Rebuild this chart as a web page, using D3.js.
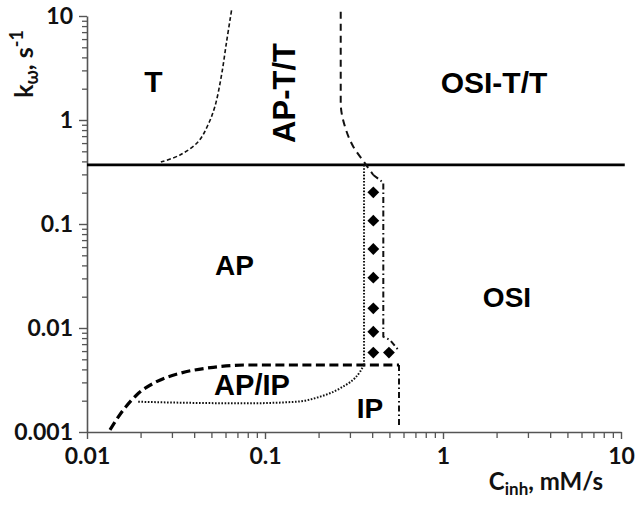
<!DOCTYPE html>
<html><head><meta charset="utf-8">
<script src="https://cdn.jsdelivr.net/npm/d3@7"></script>
<style>
body{margin:0;background:#fff;}
svg{display:block;}
.reg{font-family:"Liberation Sans",Arial,sans-serif;font-weight:bold;fill:#000;}
.tick text{font-family:Lato,"Liberation Sans",sans-serif;font-weight:bold;fill:#111;}
.axlab{font-family:Lato,"Liberation Sans",sans-serif;font-weight:bold;fill:#111;}
</style></head>
<body>
<svg id="c" width="636" height="506"></svg>
<script>
// ---- data (x: C_inh mM/s, y: k_w s^-1) ----
const xMajor = [0.01, 0.1, 1, 10];
const yMajor = [0.001, 0.01, 0.1, 1, 10];
const xTickLabels = ["0.01", "0.1", "1", "10"];
const yTickLabels = ["0.001", "0.01", "0.1", "1", "10"];

const thresholdK = 0.37;              // solid horizontal line
const thresholdSpan = [0.01, 10.5];

const tBoundary = [[0.0260,0.394],[0.0333,0.461],[0.0420,0.614],[0.0478,0.895],[0.0524,1.363],[0.0570,2.71],[0.0608,5.62],[0.0649,11.4]];
const osiTBoundary = [[0.2663,11.0],[0.2663,1.457],[0.2815,0.862],[0.3134,0.554],[0.3646,0.383],[0.406,0.296]];
const osiUpperDashDot = [[0.406,0.296],[0.462,0.25],[0.462,0.00825],[0.504,0.00767],[0.561,0.00614]];
const osiLowerDashDot = [[0.566,0.00441],[0.566,0.00112]];
const apIpUpper = [[0.01346,0.00105],[0.0160,0.00163],[0.0190,0.00227],[0.0246,0.00305],[0.0333,0.00367],[0.0512,0.00419],[0.0789,0.00441],[0.2,0.00441],[0.566,0.00441]];
const apIpLower = [[0.0194,0.001955],[0.0333,0.001914],[0.0789,0.001888],[0.1507,0.001955],[0.2037,0.002185],[0.2638,0.00263],[0.3418,0.0038],[0.360,0.00441]];
const apBoundaryVertical = [[0.360,0.00441],[0.360,0.37]];
const diamondsX = [0.406,0.406,0.406,0.406,0.406,0.406,0.406,0.497];
const diamondsY = [0.2017,0.1076,0.0575,0.03046,0.01547,0.00921,0.00580,0.00580];

const regionNames = ["T","AP-T/T","OSI-T/T","AP","AP/IP","IP","OSI"];
const regionX = [0.0236,0.1474,1.934,0.0674,0.0845,0.389,2.288];
const regionY = [1.871,1.82,1.82,0.0323,0.00227,0.001364,0.01603];

// ---- layout ----
const svg = d3.select("#c");
const x = d3.scaleLog().domain([0.01,10]).range([87,621]);
const y = d3.scaleLog().domain([0.001,10]).range([432,16]);

function minors(majors){
  const out=[];
  for(let i=0;i<majors.length-1;i++) for(let k=2;k<=9;k++) out.push(majors[i]*k);
  return out;
}

const axCol = "#555";
// minor ticks
svg.append("g").attr("transform","translate(0,432)")
  .call(d3.axisBottom(x).tickValues(minors(xMajor)).tickSize(6).tickFormat(""))
  .call(g=>{g.select(".domain").remove();g.selectAll("line").attr("stroke",axCol).attr("stroke-width",1.3);});
svg.append("g").attr("transform","translate(87,0)")
  .call(d3.axisLeft(y).tickValues(minors(yMajor)).tickSize(5).tickFormat(""))
  .call(g=>{g.select(".domain").remove();g.selectAll("line").attr("stroke",axCol).attr("stroke-width",1.3);});
// major
svg.append("g").attr("transform","translate(0,432)")
  .call(d3.axisBottom(x).tickValues(xMajor).tickSize(7).tickSizeOuter(0).tickPadding(9).tickFormat((d,i)=>xTickLabels[i]))
  .call(g=>{g.select(".domain").attr("stroke",axCol).attr("stroke-width",1.6);
            g.selectAll("line").attr("stroke",axCol).attr("stroke-width",1.4);
            g.selectAll("text").attr("font-size",23);});
svg.append("g").attr("transform","translate(87,0)")
  .call(d3.axisLeft(y).tickValues(yMajor).tickSize(8).tickSizeOuter(0).tickPadding(6).tickFormat((d,i)=>yTickLabels[i]))
  .call(g=>{g.select(".domain").attr("stroke",axCol).attr("stroke-width",1.6);
            g.selectAll("line").attr("stroke",axCol).attr("stroke-width",1.4);
            g.selectAll("text").attr("font-size",23);});

const L = d3.line().x(d=>x(d[0])).y(d=>y(d[1]));

// solid threshold
svg.append("path").attr("d",L([[thresholdSpan[0],thresholdK],[thresholdSpan[1],thresholdK]]))
  .attr("stroke","#000").attr("stroke-width",2.6).attr("fill","none");

// T boundary thin dashed
svg.append("path").attr("d",d3.line().x(d=>x(d[0])).y(d=>y(d[1])).curve(d3.curveCatmullRom)(tBoundary))
  .attr("stroke","#111").attr("stroke-width",1.6).attr("stroke-dasharray","4,2.5").attr("fill","none");
// OSI-T/T boundary
svg.append("path").attr("d",d3.line().x(d=>x(d[0])).y(d=>y(d[1])).curve(d3.curveMonotoneY)(osiTBoundary))
  .attr("stroke","#111").attr("stroke-width",2).attr("stroke-dasharray","7,5").attr("fill","none");
// dash-dot lines
const dd = "6,3,1.5,3";
svg.append("path").attr("d",L(osiUpperDashDot))
  .attr("stroke","#111").attr("stroke-width",2).attr("stroke-dasharray",dd).attr("fill","none");
svg.append("path").attr("d",L(osiLowerDashDot))
  .attr("stroke","#111").attr("stroke-width",2).attr("stroke-dasharray",dd).attr("fill","none");
// AP/IP upper bold dashed
svg.append("path").attr("d",d3.line().x(d=>x(d[0])).y(d=>y(d[1])).curve(d3.curveMonotoneX)(apIpUpper))
  .attr("stroke","#000").attr("stroke-width",3.2).attr("stroke-dasharray","9,4.5").attr("fill","none");
// dotted
svg.append("path").attr("d",d3.line().x(d=>x(d[0])).y(d=>y(d[1])).curve(d3.curveMonotoneX)(apIpLower))
  .attr("stroke","#111").attr("stroke-width",2).attr("stroke-dasharray","1.6,1.6").attr("fill","none");
svg.append("path").attr("d",L(apBoundaryVertical))
  .attr("stroke","#111").attr("stroke-width",2).attr("stroke-dasharray","1.6,1.6").attr("fill","none");

// diamonds
svg.append("g").selectAll("path").data(diamondsX).join("path")
  .attr("d",d3.symbol(d3.symbolSquare,70)())
  .attr("transform",(d,i)=>`translate(${x(d)},${y(diamondsY[i])}) rotate(45)`)
  .attr("fill","#000");

// region labels
const sizes = [30,31,30,28,29,28,28];
regionNames.forEach((n,i)=>{
  const t = svg.append("text").attr("class","reg").attr("font-size",sizes[i]).attr("text-anchor","middle").text(n);
  if(n==="AP-T/T") t.attr("transform",`translate(${x(regionX[i])},${y(regionY[i])}) rotate(-90)`);
  else t.attr("x",x(regionX[i])).attr("y",y(regionY[i]));
});

// axis labels
const yl = svg.append("text").attr("class","axlab").attr("font-size",25)
  .attr("text-anchor","middle").attr("transform","translate(33,64) rotate(-90)");
yl.append("tspan").text("k");
yl.append("tspan").attr("font-size",18).attr("dy",5).text("ω");
yl.append("tspan").attr("dy",-5).text(", s");
yl.append("tspan").attr("font-size",18).attr("dy",-10).text("-1");

const xl = svg.append("text").attr("class","axlab").attr("font-size",24)
  .attr("text-anchor","end").attr("x",603).attr("y",490);
xl.append("tspan").text("C");
xl.append("tspan").attr("font-size",17).attr("dy",5).text("inh");
xl.append("tspan").attr("dy",-5).text(", mM/s");
</script>
</body></html>
